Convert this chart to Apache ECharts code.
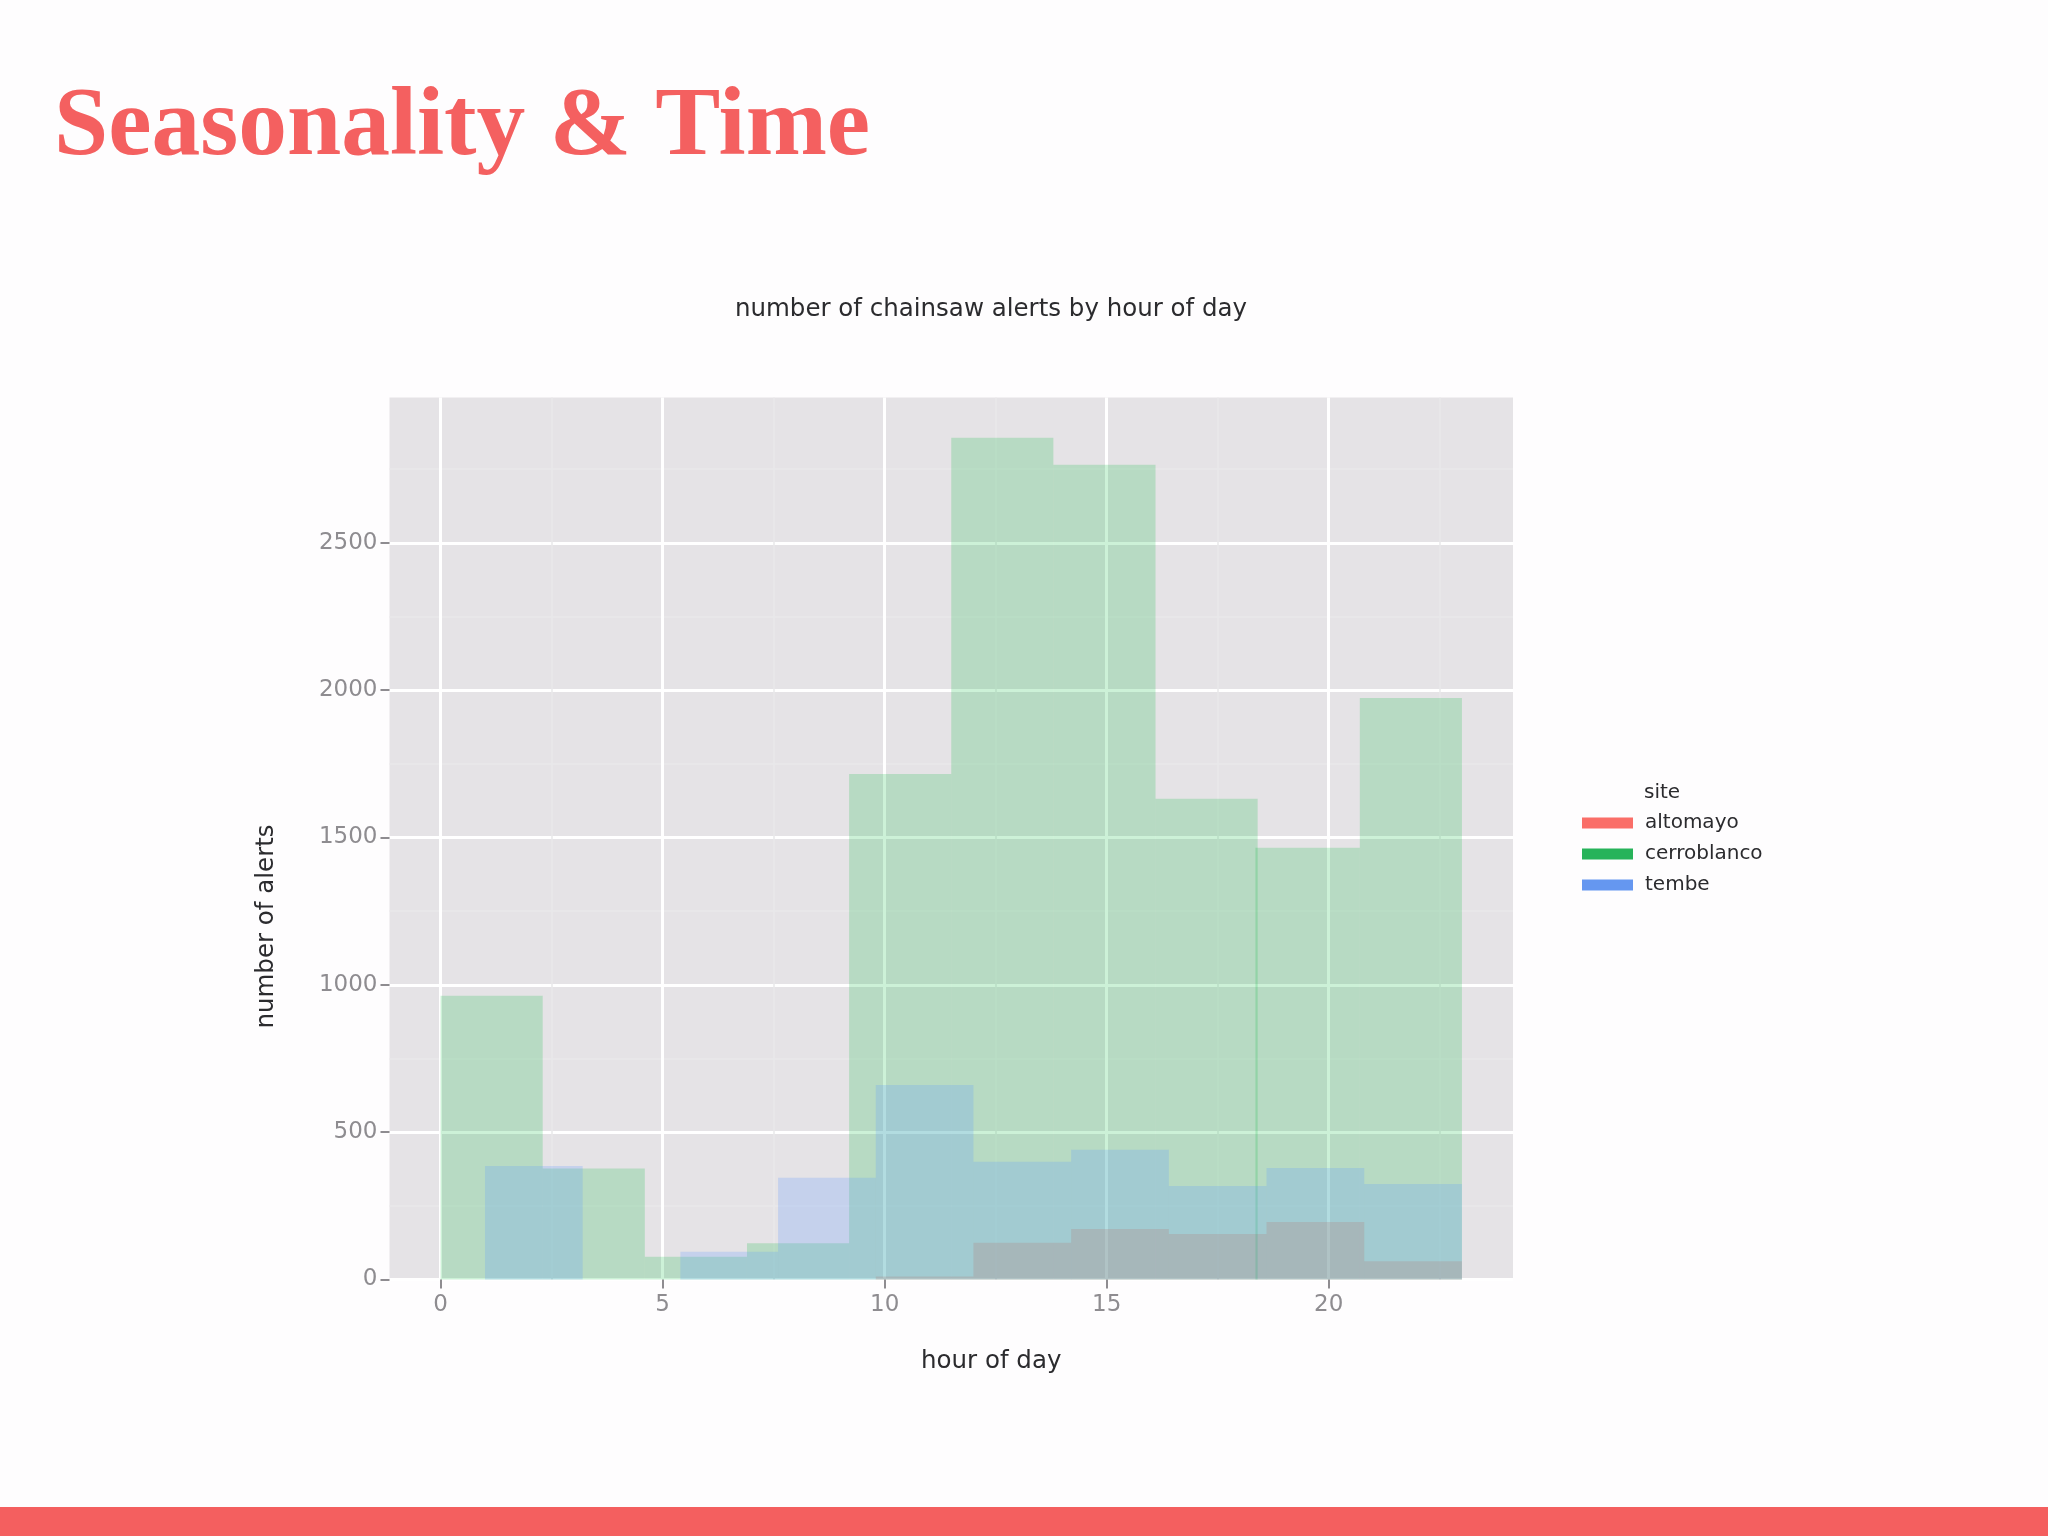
<!DOCTYPE html>
<html>
<head>
<meta charset="utf-8">
<title>Seasonality & Time</title>
<style>
  html, body { margin: 0; padding: 0; background: #fefdfe; }
  #chart { width: 2048px; height: 1536px; }
</style>
<script src="https://cdn.jsdelivr.net/npm/echarts@6/dist/echarts.min.js"></script>
</head>
<body>
<div id="chart"></div>
<script>
// bin edges (each site has its own 10 bins)
var cerroLeft = [0, 2.3, 4.6, 6.9, 9.2, 11.5, 13.8, 16.1, 18.35, 20.7];
var cerroRight = [2.3, 4.6, 6.9, 9.2, 11.5, 13.8, 16.1, 18.4, 20.7, 23];
var otherLeft = [1, 3.2, 5.4, 7.6, 9.8, 12, 14.2, 16.4, 18.6, 20.8];
var otherRight = [3.2, 5.4, 7.6, 9.8, 12, 14.2, 16.4, 18.6, 20.8, 23];

// counts per bin
var altomayo = [0, 0, 0, 0, 10, 125, 171, 154, 195, 62];
var cerroblanco = [963, 377, 77, 123, 1715, 2856, 2765, 1631, 1465, 1973];
var tembe = [385, 0, 94, 345, 660, 400, 440, 317, 378, 324];

// axis ticks
var xMajor = [0, 5, 10, 15, 20];
var xMinor = [2.5, 7.5, 12.5, 17.5, 22.5];
var yMajor = [0, 500, 1000, 1500, 2000, 2500];
var yMinor = [250, 750, 1250, 1750, 2250, 2750];

var siteNames = ['altomayo', 'cerroblanco', 'tembe'];
var legendColors = ['#fa6e68', '#27b35a', '#6597f0'];
var fillColors = ['#f8766d', '#00ba38', '#619cff'];
var fillOpacity = [0.3, 0.2, 0.24];

var fontName = '"DejaVu Sans"';
var tickColor = '#8e8c90';
var textColor = '#2b2b2e';

// [left edge, right edge, count] per bin
function toBins(left, right, counts) {
    var rows = [];
    for (var i = 0; i < counts.length; i++) {
        rows.push([left[i], right[i], counts[i]]);
    }
    return rows;
}

function renderBin(params, api) {
    var p0 = api.coord([api.value(0), api.value(2)]);
    var p1 = api.coord([api.value(1), 0]);
    return {
        type: 'rect',
        shape: { x: p0[0], y: p0[1], width: p1[0] - p0[0], height: p1[1] - p0[1] },
        style: { fill: api.visual('color'), opacity: fillOpacity[params.seriesIndex] }
    };
}

function histSeries(index, rows) {
    return {
        name: siteNames[index],
        type: 'custom',
        renderItem: renderBin,
        encode: { x: [0, 1], y: 2 },
        itemStyle: { color: fillColors[index] },
        data: rows,
        silent: true
    };
}

function plainNumber(value) {
    return String(value);
}

var myChart = echarts.init(document.getElementById('chart'));

var option = {
    animation: false,
    backgroundColor: '#fefdfe',
    title: [
        {
            text: 'Seasonality & Time',
            left: 49,
            top: 75,
            textStyle: { fontFamily: '"Liberation Serif"', fontSize: 97.5, fontWeight: 'bold', color: '#f46060' }
        },
        {
            text: 'number of chainsaw alerts by hour of day',
            left: 986,
            top: 292,
            textAlign: 'center',
            textStyle: { fontFamily: fontName, fontSize: 24.5, fontWeight: 'normal', color: textColor }
        },
        {
            text: 'site',
            left: 1639,
            top: 778,
            textStyle: { fontFamily: fontName, fontSize: 20, fontWeight: 'normal', color: textColor }
        }
    ],
    legend: {
        left: 1577,
        top: 808,
        orient: 'vertical',
        itemWidth: 51,
        itemHeight: 11,
        itemGap: 11,
        icon: 'rect',
        selectedMode: false,
        textStyle: { fontFamily: fontName, fontSize: 20, color: textColor, padding: [0, 0, 0, 7] },
        data: siteNames.map(function (name, i) {
            return { name: name, itemStyle: { color: legendColors[i], opacity: 1 } };
        })
    },
    grid: {
        show: true,
        left: 389.5,
        right: 535,
        top: 397.5,
        bottom: 256.5,
        backgroundColor: '#e5e3e6',
        borderWidth: 0
    },
    xAxis: [
        {
            type: 'value',
            min: -1.15,
            max: 24.15,
            name: 'hour of day',
            nameLocation: 'center',
            nameGap: 70,
            nameTextStyle: { fontFamily: fontName, fontSize: 24.5, color: textColor, padding: [0, 0, 0, 80] },
            axisLine: { show: false, onZero: false },
            axisTick: { show: true, customValues: xMajor, length: 9, lineStyle: { color: tickColor, width: 2 } },
            axisLabel: { customValues: xMajor, formatter: plainNumber, fontFamily: fontName, fontSize: 23, color: tickColor, margin: 14 },
            splitLine: { show: true, lineStyle: { color: '#ffffff', width: 3 } }
        },
        {
            // minor grid only
            type: 'value',
            min: -1.15,
            max: 24.15,
            axisLine: { show: false, onZero: false },
            axisTick: { show: false, customValues: xMinor },
            axisLabel: { show: false },
            splitLine: { show: true, lineStyle: { color: '#e9e8ea', width: 1.5 } }
        }
    ],
    yAxis: [
        {
            type: 'value',
            min: 0,
            max: 2993,
            name: 'number of alerts',
            nameLocation: 'center',
            nameGap: 110,
            nameTextStyle: { fontFamily: fontName, fontSize: 24.5, color: textColor, padding: [0, 176, 0, 0] },
            axisLine: { show: false, onZero: false },
            axisTick: { show: true, customValues: yMajor, length: 9, lineStyle: { color: tickColor, width: 2 } },
            axisLabel: { customValues: yMajor, formatter: plainNumber, fontFamily: fontName, fontSize: 23, color: tickColor, margin: 12, padding: [5, 0, 0, 0] },
            splitLine: { show: true, lineStyle: { color: '#ffffff', width: 3 } }
        },
        {
            type: 'value',
            min: 0,
            max: 2993,
            axisLine: { show: false, onZero: false },
            axisTick: { show: false, customValues: yMinor },
            axisLabel: { show: false },
            splitLine: { show: true, lineStyle: { color: '#e9e8ea', width: 1.5 } }
        }
    ],
    series: [
        histSeries(0, toBins(otherLeft, otherRight, altomayo)),
        histSeries(1, toBins(cerroLeft, cerroRight, cerroblanco)),
        histSeries(2, toBins(otherLeft, otherRight, tembe))
    ],
    graphic: [
        {
            // bottom band of the slide
            type: 'rect',
            left: 0,
            top: 1507,
            shape: { width: 2048, height: 29 },
            style: { fill: '#f45f5f' }
        }
    ]
};

myChart.setOption(option);
</script>
</body>
</html>
